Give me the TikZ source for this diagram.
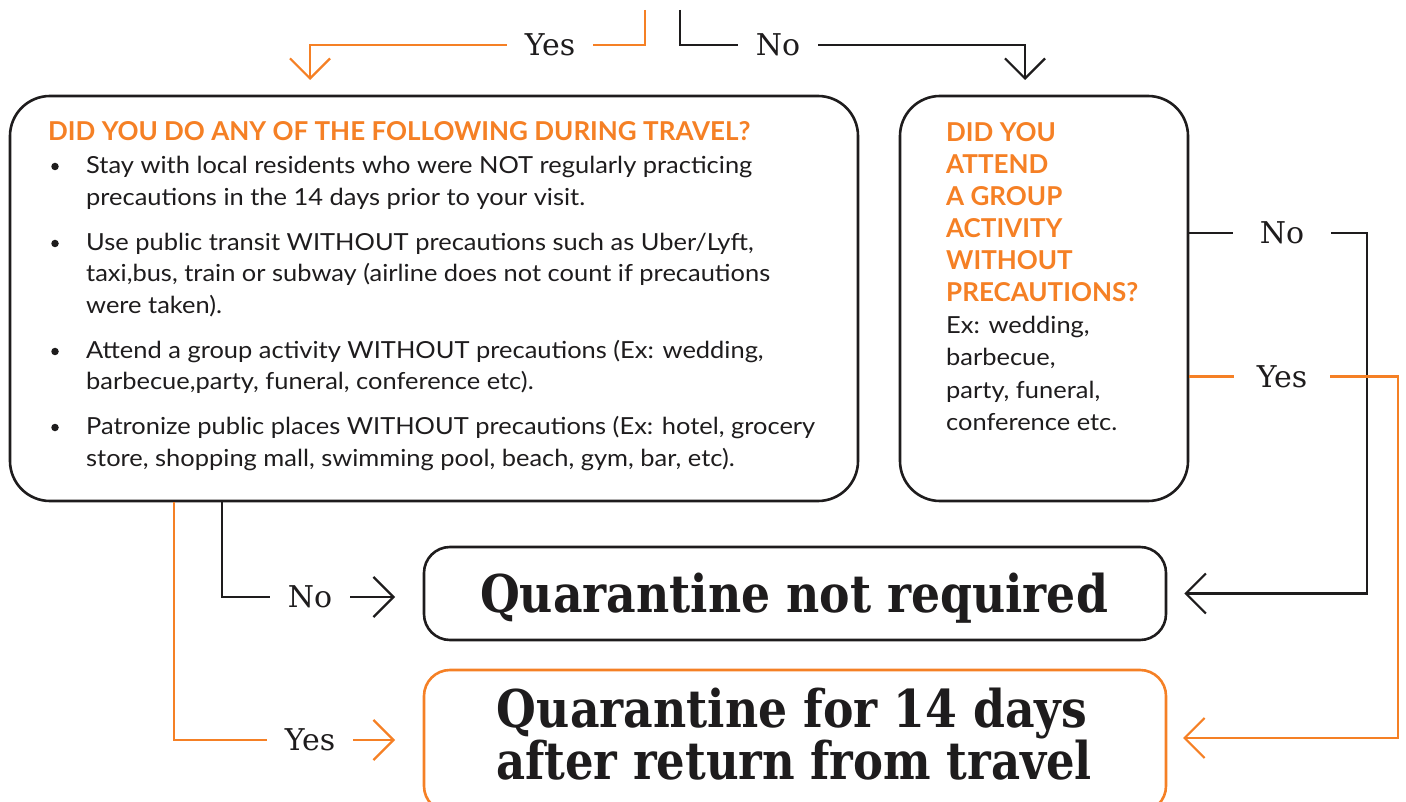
\documentclass[tikz,border=0pt]{standalone}
\usepackage{fontspec}
\usepackage{graphicx}
\setmainfont{Lato}
\newfontfamily\slab{DejaVu Serif}
\usetikzlibrary{arrows.meta,calc}
\definecolor{covorange}{RGB}{245,128,37}
\definecolor{ink}{RGB}{30,28,29}
% body lines are set slightly wider than the font's natural width
\newcommand{\wideline}[1]{\scalebox{1.083}[1]{#1}}

\begin{document}
\begin{tikzpicture}[x=1pt,y=-1pt,
  box/.style={draw=ink, line width=2.6pt, rounded corners=40pt, inner sep=0pt},
  endbox/.style={box, rounded corners=26pt, minimum width=742pt},
  link/.style={line width=2.2pt, draw=ink},
  olink/.style={line width=2.2pt, draw=covorange},
  tip/.style={-{Straight Barb[length=20pt,width=40pt]}},
  lab/.style={font=\slab\fontsize{30}{30}\selectfont, text=ink, inner xsep=18pt, inner ysep=0pt},
  head/.style={text=covorange, font=\bfseries\fontsize{26}{32}\selectfont, inner sep=0pt, anchor=base west},
  body/.style={text=ink, font=\fontsize{23.5}{32}\selectfont, inner sep=0pt, anchor=base west},
  dot/.style={circle, fill=ink, minimum size=7.5pt, inner sep=0pt},
  verdict/.style={text=ink, font=\slab\bfseries\fontsize{52}{52}\selectfont, inner sep=0pt, anchor=base}
]
\useasboundingbox (0,0) rectangle (1406,802);
\clip (0,0) rectangle (1406,802);

% question boxes
\node[box, minimum width=848pt, minimum height=405pt] (travel) at (434,298.5) {};
\node[box, minimum width=288pt, minimum height=405pt] (group) at (1044,298.5) {};

% outcome boxes
\node[endbox, minimum height=93pt] (notreq) at (795,593.5) {};
\node[endbox, draw=covorange, minimum height=142pt] (quar) at (795,741) {};

% left question
\node[head] (travelQ) at (48,141) {DID YOU DO ANY OF THE FOLLOWING DURING TRAVEL?};
\node[dot] (d1) at (55,166.5) {};
\node[dot] (d2) at (55,243.5) {};
\node[dot] (d3) at (55,351.5) {};
\node[dot] (d4) at (55,427.5) {};
\node[body] (t1) at (86,173.5) {\wideline{Stay with local residents who were NOT regularly practicing}};
\node[body] (t2) at (86,205.5) {\wideline{precautions in the 14 days prior to your visit.}};
\node[body] (t3) at (86,250.5) {\wideline{Use public transit WITHOUT precautions such as Uber/Lyft,}};
\node[body] (t4) at (86,281.5) {\wideline{taxi,bus, train or subway (airline does not count if precautions}};
\node[body] (t5) at (86,313.5) {\wideline{were taken).}};
\node[body] (t6) at (86,358.5) {\wideline{Attend a group activity WITHOUT precautions (Ex: wedding,}};
\node[body] (t7) at (86,389.5) {\wideline{barbecue,party, funeral, conference etc).}};
\node[body] (t8) at (86,434.5) {\wideline{Patronize public places WITHOUT precautions (Ex: hotel, grocery}};
\node[body] (t9) at (86,466.5) {\wideline{store, shopping mall, swimming pool, beach, gym, bar, etc).}};

% right question
\node[head] (g1) at (946,142) {DID YOU};
\node[head] (g2) at (946,174) {ATTEND};
\node[head] (g3) at (946,206) {A GROUP};
\node[head] (g4) at (946,238) {ACTIVITY};
\node[head] (g5) at (946,270) {WITHOUT};
\node[head] (g6) at (946,302) {PRECAUTIONS?};
\node[body] (g7) at (946,334) {\wideline{Ex: wedding,}};
\node[body] (g8) at (946,366) {\wideline{barbecue,}};
\node[body] (g9) at (946,398) {\wideline{party, funeral,}};
\node[body] (g10) at (946,430) {\wideline{conference etc.}};

% outcomes
\node[verdict] (notreqT) at (794,612) {\resizebox{628pt}{\height}{Quarantine not required}};
\node[verdict] (quarT1) at (792,727) {\resizebox{590pt}{\height}{Quarantine for 14 days}};
\node[verdict] (quarT2) at (794,779) {\resizebox{596pt}{\height}{after return from travel}};

% branch labels
\node[lab] (yesTop) at (550,45) {Yes};
\node[lab] (noTop) at (778,45) {No};
\node[lab, inner xsep=27pt] (noRight) at (1282,233) {No};
\node[lab, inner xsep=23pt] (yesRight) at (1282,376.5) {Yes};
\node[lab] (noLeft) at (310,597) {No};
\node[lab] (yesLeft) at (310,740) {Yes};

% connector ends
\coordinate (srcYes) at (645,10);
\coordinate (srcNo) at (680,10);
\coordinate (tipTravel) at (310,80);
\coordinate (tipGroup) at (1025,80);
\coordinate (tipNotR) at ($(notreq.east)+(17,0)$);
\coordinate (tipQuarR) at (1183,738);
\coordinate (tipNotL) at (395,597);
\coordinate (tipQuarL) at (395,740);

% connectors
\draw[olink] (srcYes) |- (yesTop.east);
\draw[olink, tip] (yesTop.west) -| (tipTravel);
\draw[link] (srcNo) |- (noTop.west);
\draw[link, tip] (noTop.east) -| (tipGroup);

\draw[link] (group.east |- noRight) -- (noRight.west);
\draw[link, tip] (noRight.east) -| ([xshift=183pt]tipNotR) -- (tipNotR);
\draw[olink] (group.east |- yesRight) -- (yesRight.west);
\draw[olink, tip] (yesRight.east) -| ([xshift=215pt]tipQuarR) -- (tipQuarR);

\draw[link] ([xshift=-212pt]travel.south) |- (noLeft.west);
\draw[link, tip] (noLeft.east) -- (tipNotL);
\draw[olink] ([xshift=-260pt]travel.south) |- (yesLeft.west);
\draw[olink, tip] (yesLeft.east) -- (tipQuarL);
\end{tikzpicture}
\end{document}
